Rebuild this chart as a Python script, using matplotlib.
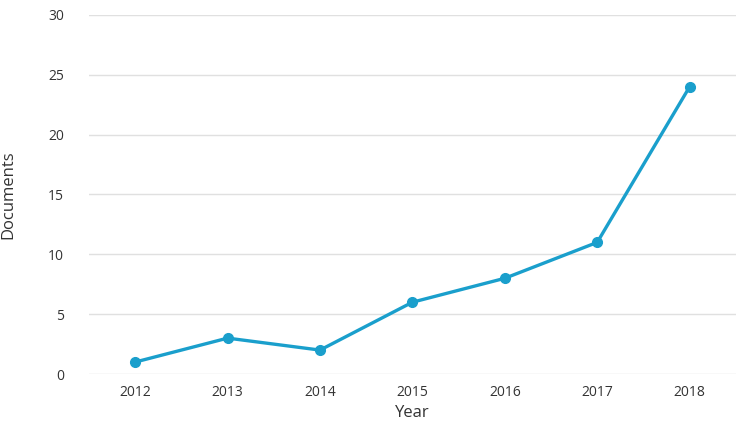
import matplotlib
matplotlib.use('Agg')
from matplotlib import pyplot as plt

years = ['2012', '2013', '2014', '2015', '2016', '2017', '2018']
documents = [1, 3, 2, 6, 8, 11, 24]
yticks = [0, 5, 10, 15, 20, 25, 30]

plt.rcParams['font.family'] = ['Open Sans', 'DejaVu Sans']

fig = plt.figure(figsize=(7.44, 4.22), dpi=100)
ax = fig.add_axes([0.1196, 0.1137, 0.8694, 0.8508])

x = list(range(len(years)))
ax.plot(x, documents, color='#1a9fcc', linewidth=2.4, marker='o', markersize=7, zorder=3)

ax.set_xlim(-0.5, len(years) - 0.5)
ax.set_ylim(0, 30)
ax.set_xticks(x)
ax.set_xticklabels(years)
ax.set_yticks(yticks)

ax.grid(axis='y', color='#e0e0e0', linewidth=1)
ax.set_axisbelow(True)
for s in ax.spines.values():
    s.set_visible(False)
ax.tick_params(length=0, labelsize=10, colors='#333333', pad=8)
ax.tick_params(axis='y', pad=18)

ax.set_xlabel('Year', fontsize=12, color='#333333', va='center')
ax.set_ylabel('Documents', fontsize=12, color='#333333', va='center')
ax.xaxis.set_label_coords(0.5, -0.109)
ax.yaxis.set_label_coords(-0.125, 0.5)

fig.savefig('out.png', dpi=100)
